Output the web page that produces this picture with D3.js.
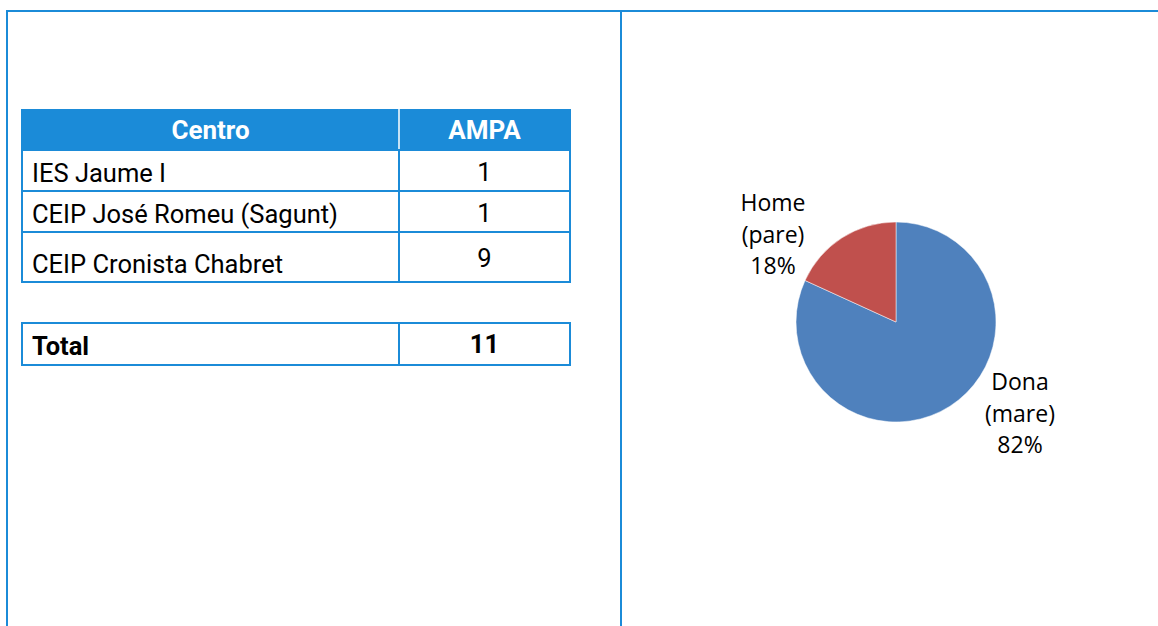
<!DOCTYPE html>
<html>
<head>
<meta charset="utf-8">
<script src="https://cdn.jsdelivr.net/npm/d3@7"></script>
<style>
  html, body { margin: 0; padding: 0; background: #fff; }
  svg { display: block; }
  .cell-text { font-family: "Roboto", sans-serif; font-size: 25.5px; fill: #000; }
  .head-text { font-family: "Roboto", sans-serif; font-size: 26px; font-weight: bold; fill: #fff; }
  .pie-label { font-family: "Open Sans", "Noto Sans", sans-serif; font-size: 23px; fill: #000; }
</style>
</head>
<body>
<svg id="chart" width="1158" height="626"></svg>
<script>
// table data
const headers = ['Centro', 'AMPA'];
const centros = ['IES Jaume I', 'CEIP José Romeu (Sagunt)', 'CEIP Cronista Chabret'];
const ampa = [1, 1, 9];
const totalLabel = 'Total';
const totalValue = 11;

// pie data
const genders = ['Dona\n(mare)', 'Home\n(pare)'];
const genderCounts = [9, 2];
const pieColors = ['#4f81bd', '#c0504d'];

const blue = '#1b8bd8';
const svg = d3.select('#chart');
const width = 1158, height = 626;

// frame
svg.append('line').attr('x1', 6).attr('x2', width).attr('y1', 11).attr('y2', 11)
  .attr('stroke', blue).attr('stroke-width', 2);
svg.append('line').attr('x1', 7).attr('x2', 7).attr('y1', 10).attr('y2', height)
  .attr('stroke', blue).attr('stroke-width', 2);
svg.append('line').attr('x1', 621).attr('x2', 621).attr('y1', 10).attr('y2', height)
  .attr('stroke', blue).attr('stroke-width', 2);

// table layout
const tLeft = 22, tMid = 399, tRight = 570;
const rowEdges = [109, 150, 191, 232, 282];
const totalTop = 323, totalBottom = 365;

const table = svg.append('g');

// header
table.append('rect').attr('x', tLeft - 1).attr('y', rowEdges[0])
  .attr('width', tRight - tLeft + 2).attr('height', rowEdges[1] - rowEdges[0])
  .attr('fill', blue);
table.append('line').attr('x1', tMid).attr('x2', tMid)
  .attr('y1', rowEdges[0]).attr('y2', rowEdges[1])
  .attr('stroke', '#fff').attr('stroke-width', 1.5);
table.selectAll('.head-text').data(headers).enter().append('text')
  .attr('class', 'head-text')
  .attr('text-anchor', 'middle')
  .attr('x', (d, i) => i === 0 ? (tLeft + tMid) / 2 : (tMid + tRight) / 2)
  .attr('y', rowEdges[0] + 30)
  .text(d => d);

// body rows
const rows = centros.map((c, i) => ({ name: c, value: ampa[i], y0: rowEdges[i + 1], y1: rowEdges[i + 2] }));
const rowG = table.selectAll('.row').data(rows).enter().append('g').attr('class', 'row');
rowG.append('rect')
  .attr('x', tLeft).attr('y', d => d.y0)
  .attr('width', tRight - tLeft).attr('height', d => d.y1 - d.y0)
  .attr('fill', 'none').attr('stroke', blue).attr('stroke-width', 2);
rowG.append('line')
  .attr('x1', tMid).attr('x2', tMid).attr('y1', d => d.y0).attr('y2', d => d.y1)
  .attr('stroke', blue).attr('stroke-width', 2);
rowG.append('text').attr('class', 'cell-text')
  .attr('x', tLeft + 10).attr('y', d => d.y1 - 9)
  .text(d => d.name);
rowG.append('text').attr('class', 'cell-text')
  .attr('text-anchor', 'middle')
  .attr('x', (tMid + tRight) / 2).attr('y', (d, i) => i === 2 ? d.y1 - 15 : d.y1 - 10)
  .text(d => d.value);

// total row
table.append('rect').attr('x', tLeft).attr('y', totalTop)
  .attr('width', tRight - tLeft).attr('height', totalBottom - totalTop)
  .attr('fill', 'none').attr('stroke', blue).attr('stroke-width', 2);
table.append('line').attr('x1', tMid).attr('x2', tMid).attr('y1', totalTop).attr('y2', totalBottom)
  .attr('stroke', blue).attr('stroke-width', 2);
table.append('text').attr('class', 'cell-text').style('font-weight', 'bold')
  .attr('x', tLeft + 10).attr('y', totalBottom - 10).text(totalLabel);
table.append('text').attr('class', 'cell-text').style('font-weight', 'bold')
  .attr('text-anchor', 'middle')
  .attr('x', (tMid + tRight) / 2).attr('y', totalBottom - 12).text(totalValue);

// pie
const cx = 896, cy = 322, radius = 100;
const pie = d3.pie().sort(null)(genderCounts);
const arc = d3.arc().innerRadius(0).outerRadius(radius);
const total = d3.sum(genderCounts);

const pg = svg.append('g').attr('transform', `translate(${cx},${cy})`);
pg.selectAll('path').data(pie).enter().append('path')
  .attr('d', arc)
  .attr('fill', (d, i) => pieColors[i])
  .attr('stroke', '#fff').attr('stroke-width', 0.5);

// label positions relative to centre
const labelPos = [[124, 68], [-123, -111]];
const lg = pg.selectAll('.lbl').data(pie).enter().append('text')
  .attr('class', 'pie-label')
  .attr('text-anchor', 'middle')
  .attr('transform', (d, i) => `translate(${labelPos[i][0]},${labelPos[i][1]})`);
lg.each(function(d, i) {
  const lines = genders[i].split('\n').concat([Math.round(d.value / total * 100) + '%']);
  d3.select(this).selectAll('tspan').data(lines).enter().append('tspan')
    .attr('x', 0).attr('dy', (l, j) => j === 0 ? 0 : 31.5)
    .text(l => l);
});
</script>
</body>
</html>
